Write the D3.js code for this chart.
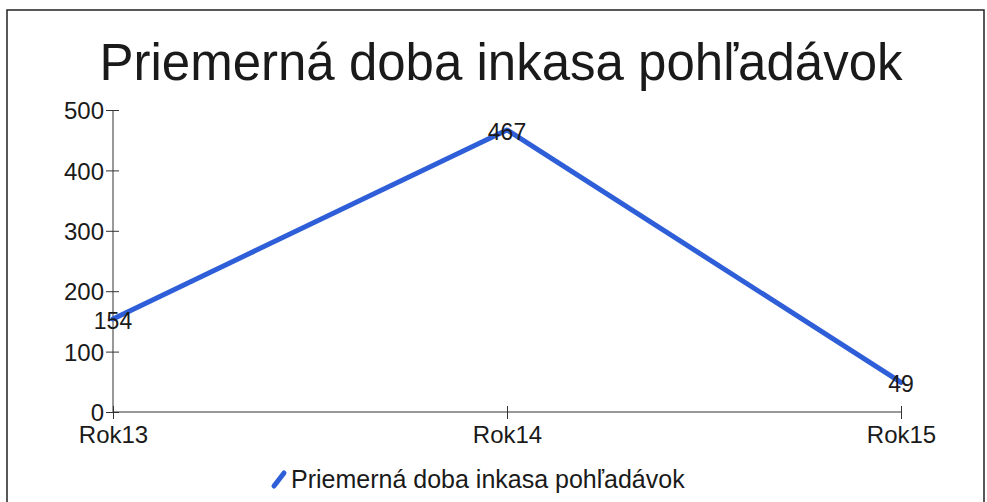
<!DOCTYPE html>
<html>
<head>
<meta charset="utf-8">
<script src="https://cdn.jsdelivr.net/npm/d3@7"></script>
<style>
  body { margin: 0; background: #fff; }
  svg { font-family: "Liberation Sans", Arial, sans-serif; }
</style>
</head>
<body>
<svg width="987" height="502"></svg>
<script>
// chart data
const years = ["Rok13", "Rok14", "Rok15"];
const values = [154, 467, 49];
const yTicks = [0, 100, 200, 300, 400, 500];
const seriesName = "Priemerná doba inkasa pohľadávok";

const svg = d3.select("svg");
const lineColor = "#2f5fd8";
const textColor = "#1a1a1a";

// frame
svg.append("path")
   .attr("d", "M7,502 L7,10 L984,10 L984,502")
   .attr("fill", "none")
   .attr("stroke", "#222")
   .attr("stroke-width", 1.5);

// title
svg.append("text")
   .attr("x", 501)
   .attr("y", 80)
   .attr("text-anchor", "middle")
   .attr("font-size", 51)
   .attr("fill", textColor)
   .text("Priemerná doba inkasa pohľadávok");

const x = d3.scalePoint().domain(years).range([113, 901]);
const y = d3.scaleLinear().domain([0, 500]).range([412, 110]);

// y axis
const yAxis = svg.append("g")
   .attr("transform", "translate(113,0)")
   .call(d3.axisLeft(y).tickValues(yTicks).tickSize(6).tickPadding(3));
yAxis.select(".domain").attr("d", "M0,110 V412").attr("stroke", "#333");
yAxis.selectAll(".tick line").attr("x1", 6).attr("x2", -7).attr("stroke", "#333");
yAxis.selectAll(".tick text")
     .attr("font-size", 24).attr("fill", textColor)
     .attr("font-family", "Liberation Sans, Arial, sans-serif")
     .attr("dy", "0.36em");

// x axis
const xAxis = svg.append("g")
   .attr("transform", "translate(0,412)")
   .call(d3.axisBottom(x).tickSize(6).tickPadding(2));
xAxis.select(".domain").attr("d", "M113,0 H901").attr("stroke", "#333");
xAxis.selectAll(".tick line").attr("y1", -6).attr("y2", 7).attr("stroke", "#333");
xAxis.selectAll(".tick text")
     .attr("font-size", 24).attr("fill", textColor)
     .attr("font-family", "Liberation Sans, Arial, sans-serif")
     .attr("dy", "0.95em");

// series line
const line = d3.line()
   .x((d, i) => x(years[i]))
   .y(d => y(d));

svg.append("path")
   .datum(values)
   .attr("d", line)
   .attr("fill", "none")
   .attr("stroke", lineColor)
   .attr("stroke-width", 5)
   .attr("stroke-linejoin", "round")
   .attr("stroke-linecap", "round");

// data labels
svg.selectAll(".lbl")
   .data(values)
   .enter()
   .append("text")
   .attr("class", "lbl")
   .attr("x", (d, i) => x(years[i]))
   .attr("y", d => y(d) + 10)
   .attr("text-anchor", "middle")
   .attr("font-size", 23)
   .attr("fill", textColor)
   .text(d => d);

// legend
const legend = svg.append("g").attr("transform", "translate(279,479)");
legend.append("line")
   .attr("x1", -5).attr("y1", 7).attr("x2", 5).attr("y2", -6)
   .attr("stroke", lineColor)
   .attr("stroke-width", 5)
   .attr("stroke-linecap", "round");
legend.append("text")
   .attr("x", 12)
   .attr("y", 9)
   .attr("font-size", 25)
   .attr("fill", textColor)
   .text(seriesName);
</script>
</body>
</html>
